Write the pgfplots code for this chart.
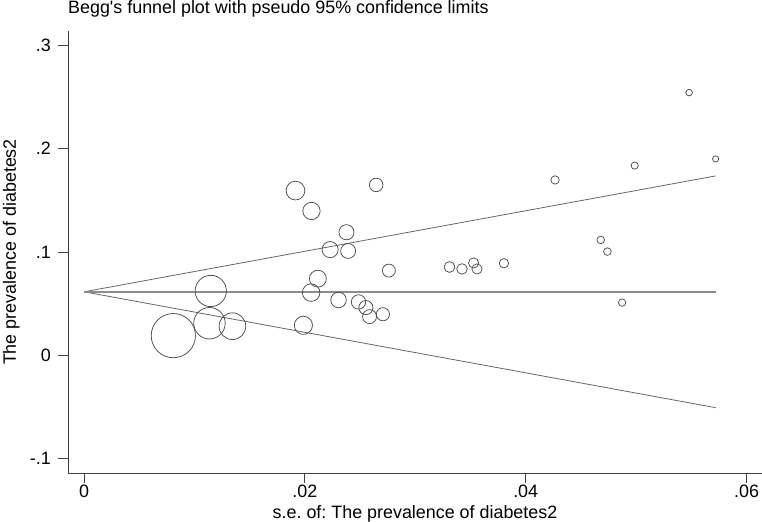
\documentclass[border=0pt]{standalone}
\usepackage{pgfplots}
\usepackage{pgfplotstable}
\pgfplotsset{compat=1.18}
\usepackage{fontspec}
\setmainfont{Liberation Sans}
\frenchspacing
\pgfplotstableread{
x y r
0.00809 0.0191 22.2
0.01136 0.0311 15.8
0.01148 0.0623 15.7
0.01344 0.0282 13.4
0.01915 0.1594 9.4
0.01987 0.0291 9.1
0.02060 0.1397 8.7
0.02057 0.0607 8.8
0.02118 0.0742 8.5
0.02229 0.1023 8.1
0.02305 0.0536 7.8
0.02377 0.1191 7.6
0.02392 0.1010 7.5
0.02486 0.0517 7.2
0.02553 0.0462 7.1
0.02586 0.0375 7.0
0.02646 0.1649 6.8
0.02707 0.0398 6.6
0.02761 0.0820 6.5
0.03310 0.0855 5.4
0.03423 0.0836 5.3
0.03528 0.0894 5.1
0.03559 0.0836 5.1
0.03803 0.0891 4.7
0.04266 0.1697 4.2
0.04679 0.1117 3.8
0.04740 0.1004 3.8
0.04873 0.0510 3.7
0.04987 0.1836 3.6
0.05480 0.2542 3.3
0.05720 0.1900 3.1
}\studies
\definecolor{circ}{gray}{0.30}
\definecolor{ciline}{gray}{0.40}
\definecolor{poolline}{gray}{0.55}
\definecolor{axcol}{gray}{0.25}
\begin{document}
\fontsize{17.9bp}{21bp}\selectfont
\begin{tikzpicture}
\path[use as bounding box] (-68bp,-49bp) rectangle (694bp,473bp);
\begin{axis}[
  name=ax,
  at={(0,0)}, anchor=south west,
  scale only axis,
  width=694bp, height=442bp,
  xmin=-0.00145, xmax=0.0614,
  ymin=-0.1138, ymax=0.3138,
  axis x line=bottom, axis y line=left,
  axis line style={-, draw=axcol, line width=0.8bp},
  tick align=outside,
  major tick length=10bp,
  tick style={draw=axcol, line width=0.8bp},
  scaled x ticks=false, scaled y ticks=false,
  xtick={0,0.02,0.04,0.06},
  xticklabels={0,.02,.04,.06},
  ytick={-0.1,0,0.1,0.2,0.3},
  yticklabels={-.1,0,.1,.2,.3},
  /pgf/number format/assume math mode=true,
  ticklabel style={font=\fontsize{17.9bp}{21bp}\selectfont},
  yticklabel style={inner sep=0pt, xshift=-7bp},
  xticklabel style={inner sep=0pt, yshift=-2bp},
  xlabel={s.e.\ of: The prevalence of diabetes2},
  ylabel={The prevalence of diabetes2},
  label style={font=\fontsize{17.9bp}{21bp}\selectfont},
  xlabel style={at={(axis description cs:0.5,0)}, anchor=base, yshift=-45bp, inner sep=0pt},
  ylabel style={at={(axis description cs:0,0.5)}, anchor=base, yshift=52bp, inner sep=0pt},
  clip=false,
]
\addplot[ciline, line width=0.8bp] coordinates {(0,0.0615) (0.0572,0.1736)};
\addplot[ciline, line width=0.8bp] coordinates {(0,0.0615) (0.0572,-0.0506)};
\addplot[poolline, line width=2bp] coordinates {(0,0.0615) (0.0572,0.0615)};
\addplot[
  scatter, only marks, mark=o,
  scatter src=explicit,
  scatter/use mapped color={draw=circ, fill=none},
  visualization depends on={\thisrow{r} \as \rad},
  scatter/@pre marker code/.append style={/tikz/mark size=\rad},
  mark options={line width=0.75bp},
] table[x=x, y=y, meta=r] {\studies};
\node[anchor=base west, inner sep=0pt, font=\fontsize{17.9bp}{21bp}\selectfont] at ([yshift=17.7bp]rel axis cs:0,1) {Begg\textquotesingle s funnel plot with pseudo 95\% confidence limits};
\end{axis}
\end{tikzpicture}
\end{document}
